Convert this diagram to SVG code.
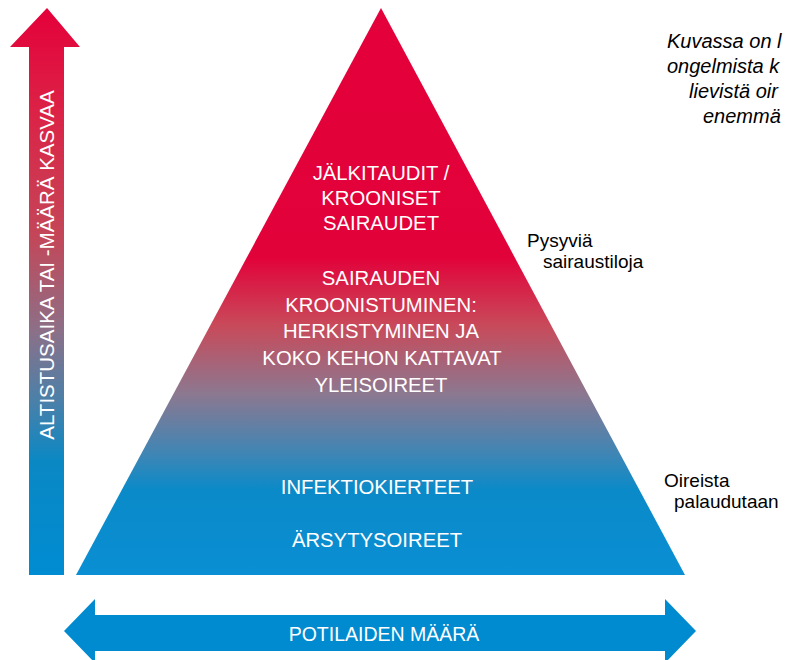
<svg xmlns="http://www.w3.org/2000/svg" width="787" height="660" viewBox="0 0 787 660">
<defs>
<linearGradient id="gPyr" gradientUnits="userSpaceOnUse" x1="0" y1="8" x2="0" y2="575">
<stop offset="0" stop-color="#E4003A"/>
<stop offset="0.44" stop-color="#E2023A"/>
<stop offset="0.56" stop-color="#C84A5A"/>
<stop offset="0.68" stop-color="#8C7890"/>
<stop offset="0.79" stop-color="#3C86B6"/>
<stop offset="0.85" stop-color="#0A8AC8"/>
<stop offset="1" stop-color="#0A8FD4"/>
</linearGradient>
<linearGradient id="gArr" gradientUnits="userSpaceOnUse" x1="0" y1="8" x2="0" y2="575">
<stop offset="0" stop-color="#E4003A"/>
<stop offset="0.18" stop-color="#DC2246"/>
<stop offset="0.40" stop-color="#C44658"/>
<stop offset="0.57" stop-color="#8C7088"/>
<stop offset="0.69" stop-color="#4C80A8"/>
<stop offset="0.80" stop-color="#0A88C4"/>
<stop offset="1" stop-color="#008CD2"/>
</linearGradient>
<style>
.w{fill:#FFFFFF;font-family:"Liberation Sans",Arial,sans-serif;font-size:20.3px;text-anchor:middle}
.k{fill:#000000;font-family:"Liberation Sans",Arial,sans-serif;font-size:19px}
.i{fill:#000000;font-family:"Liberation Sans",Arial,sans-serif;font-size:20px;font-style:italic}
</style>
</defs>
<g id="pyramid">
<polygon points="381,8 685,575 76,575" fill="url(#gPyr)"/>
<text class="w" x="381" y="180">JÄLKITAUDIT /</text>
<text class="w" x="381" y="205">KROONISET</text>
<text class="w" x="381" y="230">SAIRAUDET</text>
<text class="w" x="381" y="285">SAIRAUDEN</text>
<text class="w" x="381" y="312">KROONISTUMINEN:</text>
<text class="w" x="381" y="338">HERKISTYMINEN JA</text>
<text class="w" x="382" y="365">KOKO KEHON KATTAVAT</text>
<text class="w" x="381" y="392">YLEISOIREET</text>
<text class="w" x="377" y="494">INFEKTIOKIERTEET</text>
<text class="w" x="377" y="547">ÄRSYTYSOIREET</text>
</g>
<g id="y-axis">
<polygon points="47,8 80,47 64,47 64,575 29,575 29,47 10,47" fill="url(#gArr)"/>
<text class="w" style="font-size:20.5px" transform="translate(54,265) rotate(-90)">ALTISTUSAIKA TAI -MÄÄRÄ KASVAA</text>
</g>
<g id="x-axis">
<polygon points="64,631 95,599 95,615 665,615 665,599 696,631 665,663 665,651 95,651 95,663" fill="#008BD0"/>
<text class="w" style="font-size:19.5px" x="384" y="641">POTILAIDEN MÄÄRÄ</text>
</g>
<g id="label-pysyvia">
<text class="k" x="527" y="247">Pysyviä</text>
<text class="k" x="543" y="268">sairaustiloja</text>
</g>
<g id="label-oireista">
<text class="k" x="664" y="487">Oireista</text>
<text class="k" x="674" y="508">palaudutaan</text>
</g>
<g id="caption">
<text class="i" x="667" y="48">Kuvassa on l</text>
<text class="i" x="667" y="73">ongelmista k</text>
<text class="i" x="689" y="98">lievistä oir</text>
<text class="i" x="703" y="123">enemmä</text>
</g>
</svg>
